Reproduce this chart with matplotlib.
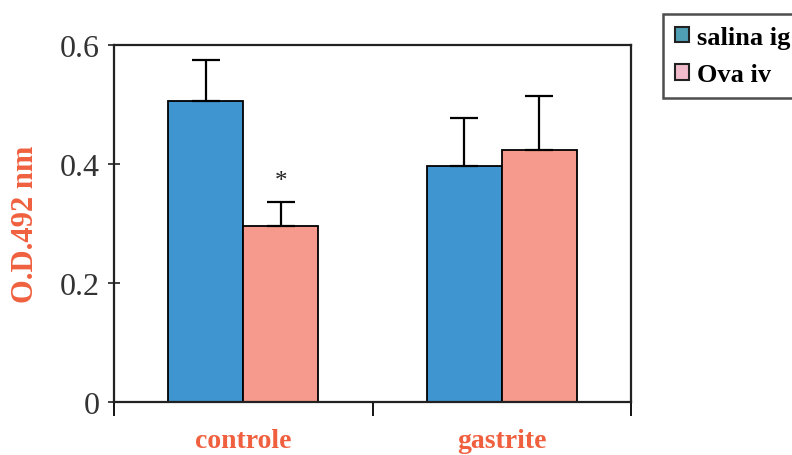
import numpy as np
import matplotlib.pyplot as plt
from matplotlib.patches import Patch

# dados
grupos = ["controle", "gastrite"]
series = ["salina ig", "Ova iv"]
salina = [0.506, 0.397]
salina_err = [0.069, 0.080]
ova = [0.296, 0.424]
ova_err = [0.040, 0.090]
estrela = [(0, "*")]  # grupo com diferenca significativa (Ova iv)

cor_azul = "#3f95cf"
cor_rosa = "#f59a8c"
cor_texto = "#f0603f"

plt.rcParams['font.family'] = ['Liberation Serif', 'DejaVu Serif']

fig = plt.figure(figsize=(7.92, 4.56), dpi=100)
ax = fig.add_axes([114/792, 1-403/456, (631-114)/792, (403-46)/456])

x = np.arange(len(grupos))
w = 0.29
ax.bar(x - w/2, salina, w, color=cor_azul, edgecolor="k", linewidth=1.3,
       yerr=[np.zeros(2), salina_err], error_kw=dict(ecolor="k", elinewidth=1.6, capsize=10, capthick=1.6))
ax.bar(x + w/2, ova, w, color=cor_rosa, edgecolor="k", linewidth=1.3,
       yerr=[np.zeros(2), ova_err], error_kw=dict(ecolor="k", elinewidth=1.6, capsize=10, capthick=1.6))

for i, s in estrela:
    ax.text(x[i] + w/2, ova[i] + ova_err[i] + 0.035, s, ha="center", va="center", fontsize=18, color="#222222")

ax.set_xlim(-0.5, 1.5)
ax.set_ylim(0, 0.6)
ax.set_yticks([0, 0.2, 0.4, 0.6])
ax.set_yticklabels(["0", "0.2", "0.4", "0.6"])
ax.tick_params(axis="y", direction="inout", length=9, width=1.3, labelsize=23, pad=6, colors="#333333")
ax.set_xticks(x)
ax.set_xticklabels(grupos, fontsize=20, fontweight="bold", color=cor_texto)
ax.tick_params(axis="x", which="major", length=0, pad=19)
ax.set_xticks([-0.5, 0.5, 1.5], minor=True)
ax.tick_params(axis="x", which="minor", direction="out", length=10, width=1.3)
for sp in ax.spines.values():
    sp.set_linewidth(1.6)
    sp.set_color("#222222")

ax.set_ylabel("O.D.492 nm", fontsize=22, fontweight="bold", color=cor_texto, labelpad=14)

handles = [Patch(facecolor="#4f9fb5", edgecolor="#222222", linewidth=1.5),
           Patch(facecolor="#f1bccb", edgecolor="#222222", linewidth=1.5)]
leg = fig.legend(handles, series, loc="upper left", bbox_to_anchor=(663/792, 1-15/456),
                 prop=dict(size=19, weight="bold"), frameon=True, fancybox=False,
                 handlelength=0.55, handleheight=0.55, handletextpad=0.3,
                 labelspacing=0.55, borderpad=0.45, borderaxespad=0)
leg.get_frame().set_edgecolor("#222222")
leg.get_frame().set_linewidth(1.8)

fig.savefig("out.png", dpi=100)
